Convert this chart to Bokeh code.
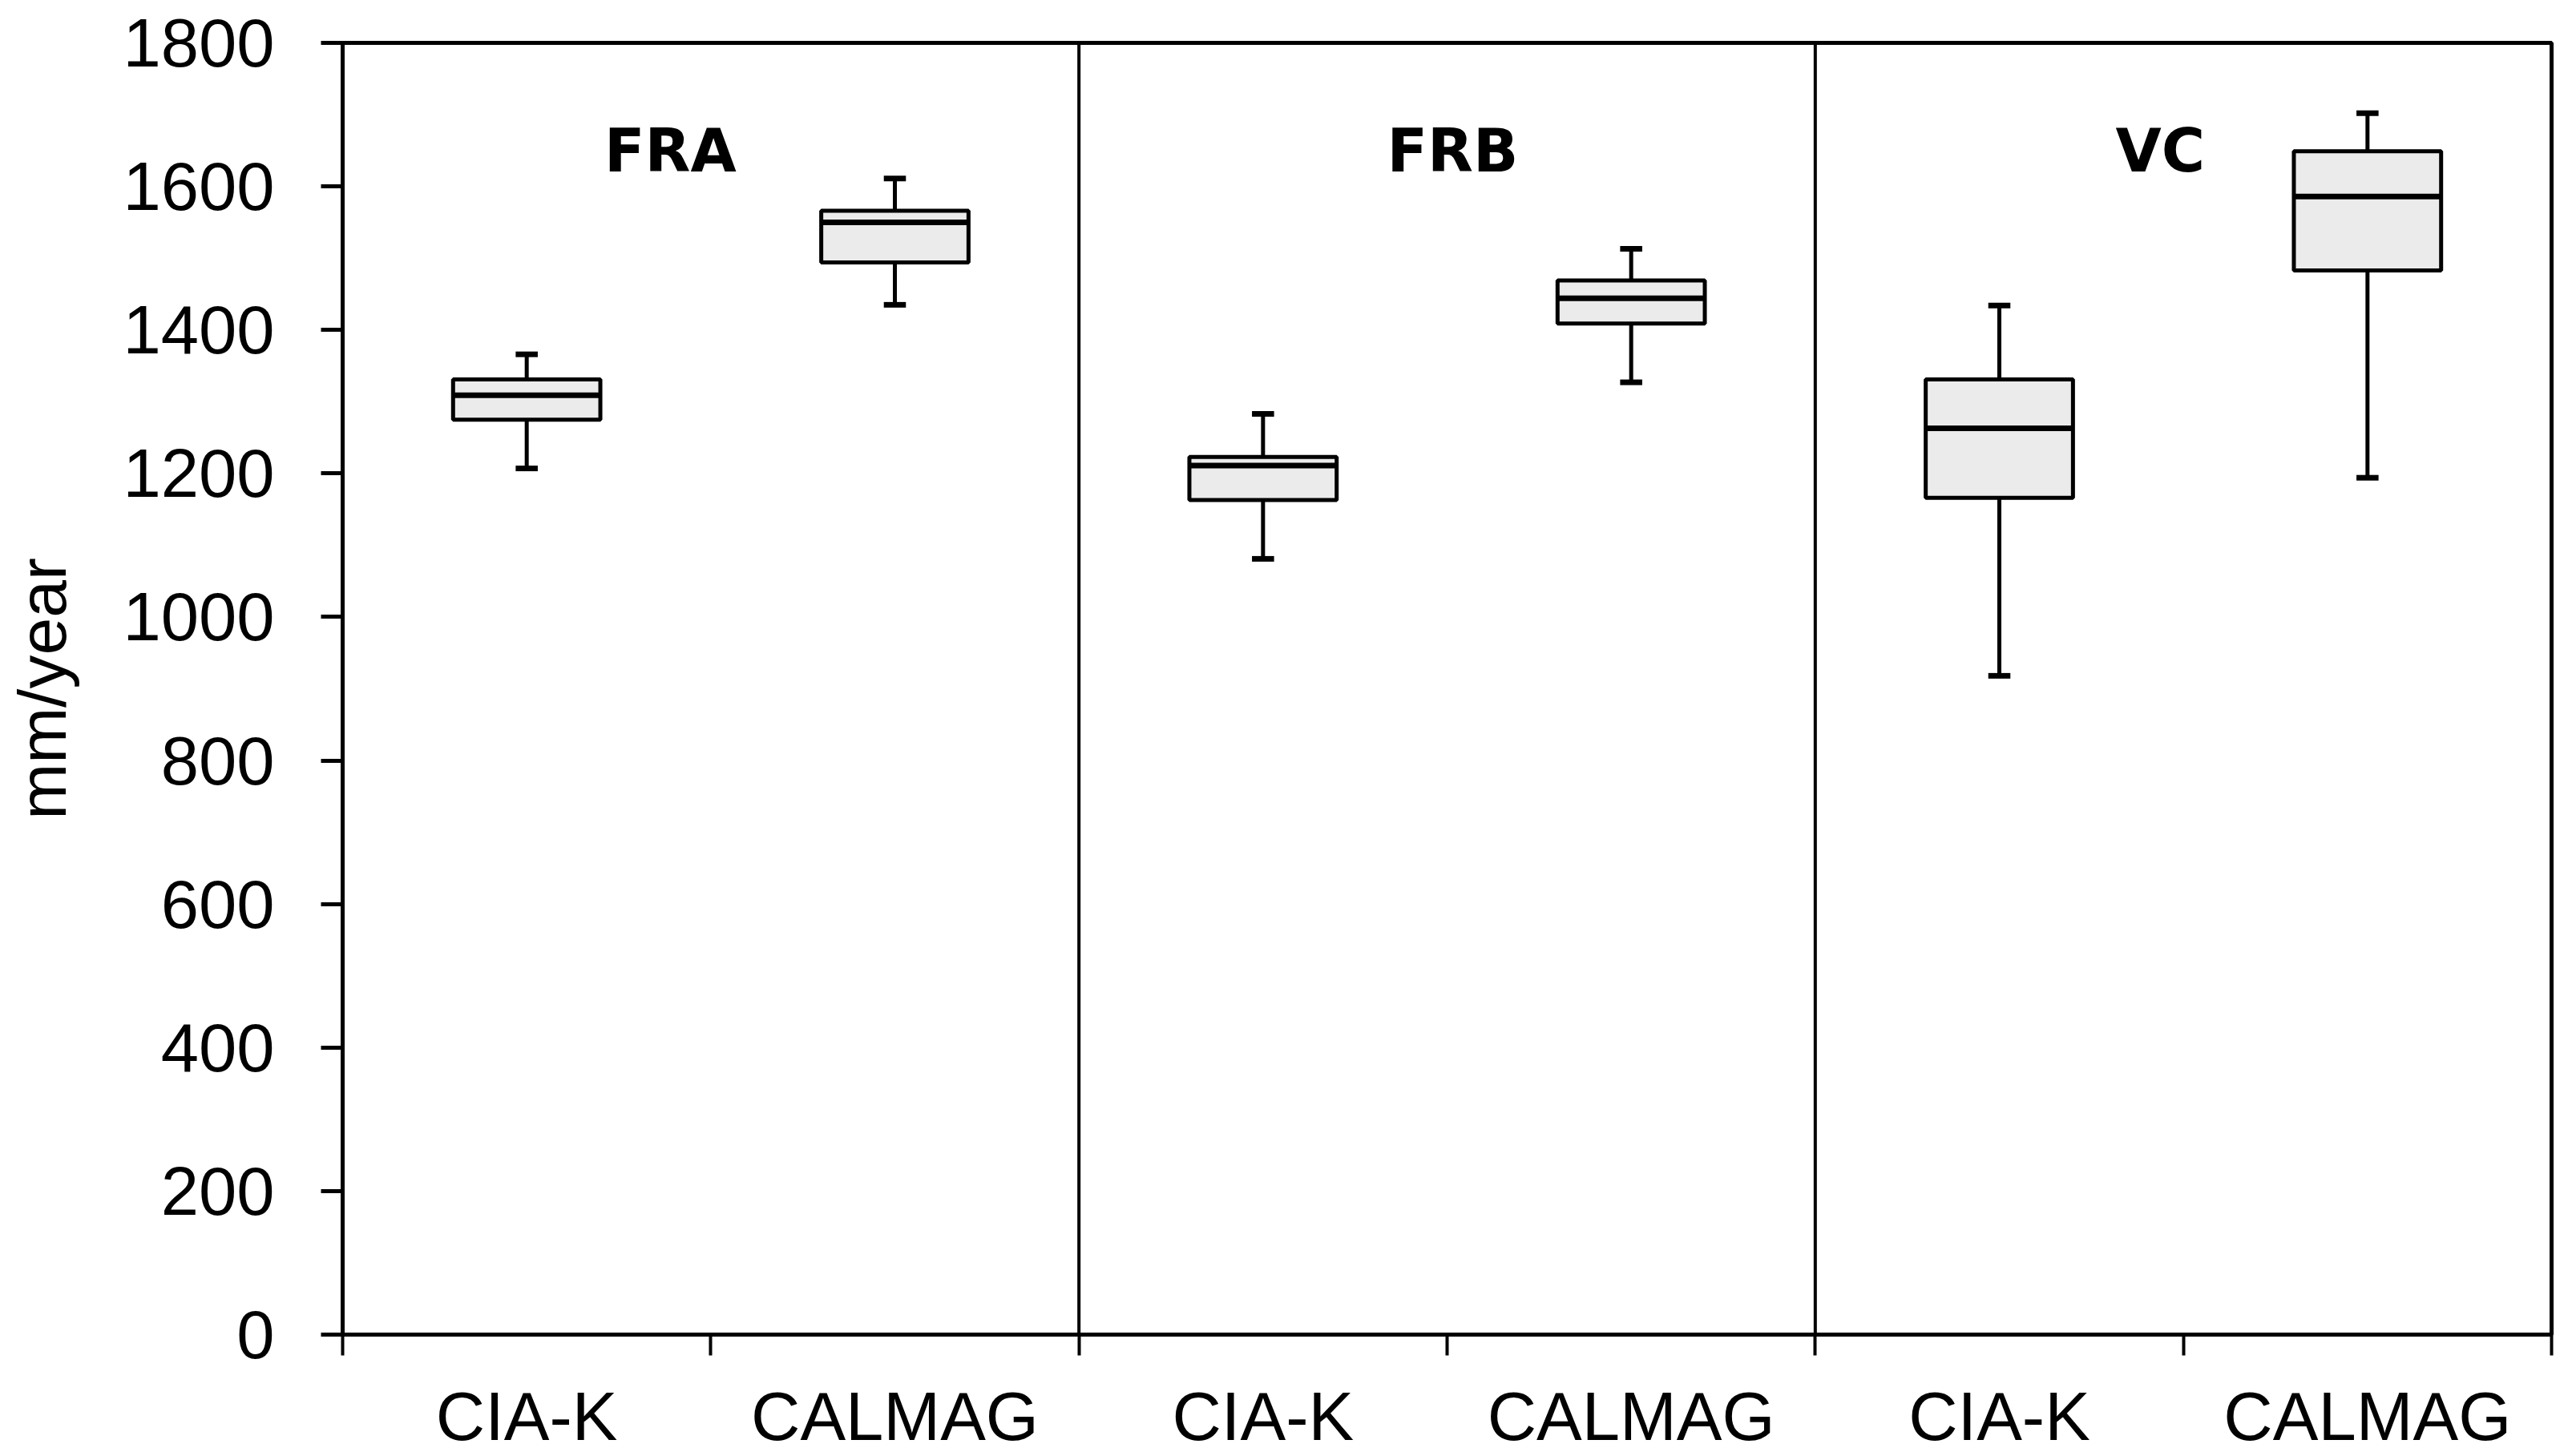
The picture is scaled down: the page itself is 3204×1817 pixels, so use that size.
from bokeh.plotting import figure
from bokeh.models import Range1d, FixedTicker, Span, ColumnDataSource
from bokeh.core.properties import value
from bokeh.embed import file_html
from bokeh.resources import INLINE

# ---- data ----
groups = ["FRA", "FRB", "VC"]
methods = ["CIA-K", "CALMAG"]
whisker_low = [1207, 1435, 1081, 1327, 918, 1194]
q1 = [1275, 1494, 1163, 1409, 1166, 1483]
median = [1309, 1550, 1211, 1444, 1263, 1586]
q3 = [1331, 1566, 1223, 1469, 1331, 1649]
whisker_high = [1366, 1611, 1283, 1513, 1434, 1702]
y_ticks = [0, 200, 400, 600, 800, 1000, 1200, 1400, 1600, 1800]

# ---- layout constants ----
n = len(groups) * len(methods)
xs = [i + 0.5 for i in range(n)]
labels = [m for g in groups for m in methods]
box_w = 0.40
cap_w = 0.06
title_offsets = [-0.11, 0.015, -0.063]
title_y = 1650

FONT = "Liberation Sans"

p = figure(width=3204, height=1817, output_backend="svg", toolbar_location=None,
           x_range=Range1d(0, n), y_range=Range1d(0, 1800),
           min_border_left=427, min_border_right=21, min_border_top=53,
           min_border_bottom=148)
p.background_fill_color = "white"
p.border_fill_color = "white"
p.outline_line_color = "black"
p.outline_line_width = 5
p.xgrid.visible = False
p.ygrid.visible = False

# y axis
p.yaxis.ticker = FixedTicker(ticks=y_ticks)
p.yaxis.major_tick_out = 27
p.yaxis.major_tick_in = 0
p.yaxis.major_tick_line_width = 5
p.yaxis.minor_tick_out = 0
p.yaxis.minor_tick_in = 0
p.yaxis.axis_line_width = 4
p.yaxis.major_label_text_font = FONT
p.yaxis.major_label_text_font_size = "85px"
p.yaxis.major_label_text_color = "black"
p.yaxis.major_label_standoff = 58
p.yaxis.axis_label = "mm/year"
p.yaxis.axis_label_text_font = FONT
p.yaxis.axis_label_text_font_size = "84px"
p.yaxis.axis_label_text_font_style = "normal"
p.yaxis.axis_label_text_color = "black"
p.yaxis.axis_label_standoff = 50

# x axis: labels at centres, tick marks at boundaries (as minor ticks)
p.xaxis.ticker = FixedTicker(ticks=xs, minor_ticks=list(range(n + 1)))
p.xaxis.major_label_overrides = {x: l for x, l in zip(xs, labels)}
p.xaxis.major_tick_out = 0
p.xaxis.major_tick_in = 0
p.xaxis.minor_tick_out = 26
p.xaxis.minor_tick_in = 0
p.xaxis.minor_tick_line_width = 4
p.xaxis.axis_line_width = 5
p.xaxis.major_label_text_font = FONT
p.xaxis.major_label_text_font_size = "85px"
p.xaxis.major_label_text_color = "black"
p.xaxis.major_label_standoff = 28

# group dividers
for k in range(1, len(groups)):
    p.add_layout(Span(location=k * len(methods), dimension="height",
                      line_color="black", line_width=4))

src = ColumnDataSource(dict(x=xs, lo=whisker_low, q1=q1, med=median, q3=q3, hi=whisker_high,
                            xl=[x - box_w / 2 for x in xs], xr=[x + box_w / 2 for x in xs],
                            cl=[x - cap_w / 2 for x in xs], cr=[x + cap_w / 2 for x in xs]))

# whiskers
p.segment(x0="x", y0="q3", x1="x", y1="hi", source=src, line_color="black", line_width=5)
p.segment(x0="x", y0="lo", x1="x", y1="q1", source=src, line_color="black", line_width=5)
p.segment(x0="cl", y0="hi", x1="cr", y1="hi", source=src, line_color="black", line_width=7)
p.segment(x0="cl", y0="lo", x1="cr", y1="lo", source=src, line_color="black", line_width=7)
# boxes
p.vbar(x="x", width=box_w, top="q3", bottom="q1", source=src,
       fill_color="#ebebeb", line_color="black", line_width=5)
# medians
p.segment(x0="xl", y0="med", x1="xr", y1="med", source=src, line_color="black", line_width=7)

# group titles
tx = [(k + 0.5) * len(methods) - len(methods) / 2 + 1 + off for k, off in enumerate(title_offsets)]
p.text(x=tx, y=[title_y] * len(groups), text=groups, text_font=value("DejaVu Sans"),
       text_font_style="bold", text_font_size="74px", text_color="black",
       text_align="center", text_baseline="middle")

open("out.html", "w").write(file_html(p, INLINE))
